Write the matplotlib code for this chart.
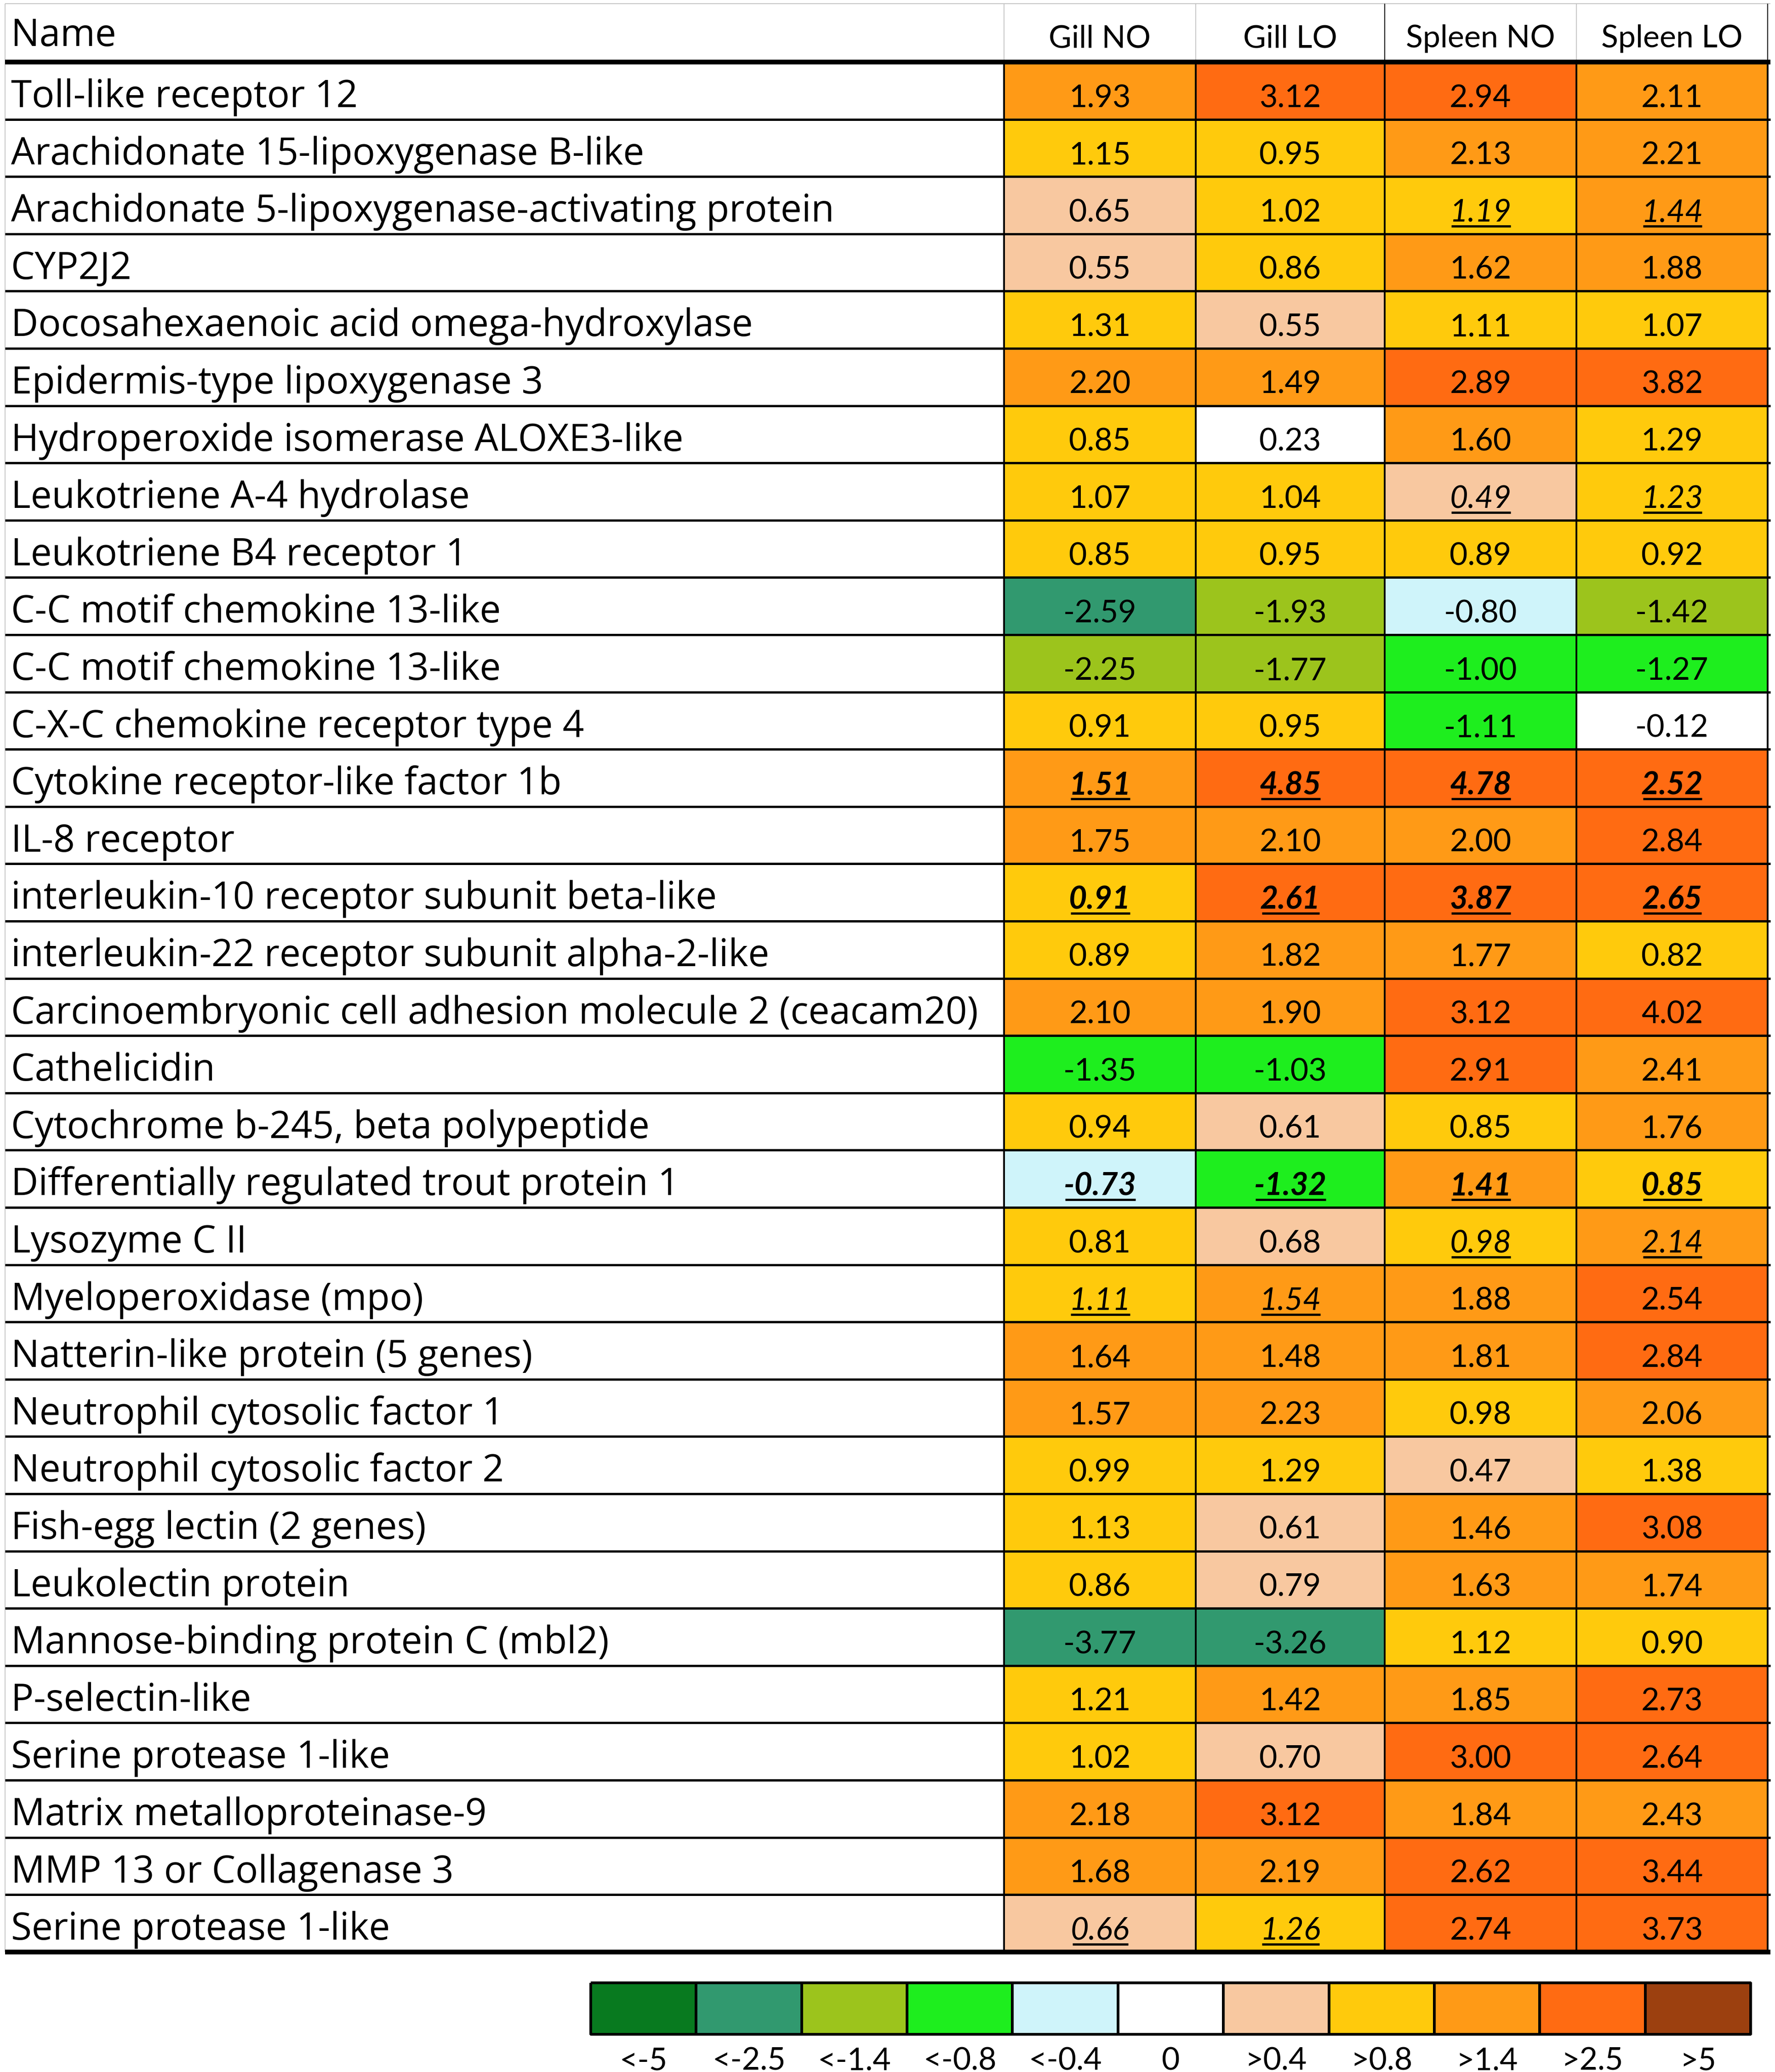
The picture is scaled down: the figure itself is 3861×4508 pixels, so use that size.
import numpy as np
import matplotlib
matplotlib.use("Agg")
import matplotlib.pyplot as plt
from matplotlib.colors import ListedColormap, BoundaryNorm

plt.rcParams['font.family'] = ['Lato', 'DejaVu Sans']

names = [
    "Toll-like receptor 12",
    "Arachidonate 15-lipoxygenase B-like",
    "Arachidonate 5-lipoxygenase-activating protein",
    "CYP2J2",
    "Docosahexaenoic acid omega-hydroxylase",
    "Epidermis-type lipoxygenase 3",
    "Hydroperoxide isomerase ALOXE3-like",
    "Leukotriene A-4 hydrolase",
    "Leukotriene B4 receptor 1",
    "C-C motif chemokine 13-like",
    "C-C motif chemokine 13-like",
    "C-X-C chemokine receptor type 4",
    "Cytokine receptor-like factor 1b",
    "IL-8 receptor",
    "interleukin-10 receptor subunit beta-like",
    "interleukin-22 receptor subunit alpha-2-like",
    "Carcinoembryonic cell adhesion molecule 2 (ceacam20)",
    "Cathelicidin",
    "Cytochrome b-245, beta polypeptide",
    "Differentially regulated trout protein 1",
    "Lysozyme C II",
    "Myeloperoxidase (mpo)",
    "Natterin-like protein (5 genes)",
    "Neutrophil cytosolic factor 1",
    "Neutrophil cytosolic factor 2",
    "Fish-egg lectin (2 genes)",
    "Leukolectin protein",
    "Mannose-binding protein C (mbl2)",
    "P-selectin-like",
    "Serine protease 1-like",
    "Matrix metalloproteinase-9",
    "MMP 13 or Collagenase 3",
    "Serine protease 1-like",
]
columns = ["Gill NO", "Gill LO", "Spleen NO", "Spleen LO"]

gill_no = [1.93, 1.15, 0.65, 0.55, 1.31, 2.20, 0.85, 1.07, 0.85, -2.59, -2.25,
           0.91, 1.51, 1.75, 0.91, 0.89, 2.10, -1.35, 0.94, -0.73, 0.81, 1.11,
           1.64, 1.57, 0.99, 1.13, 0.86, -3.77, 1.21, 1.02, 2.18, 1.68, 0.66]
gill_lo = [3.12, 0.95, 1.02, 0.86, 0.55, 1.49, 0.23, 1.04, 0.95, -1.93, -1.77,
           0.95, 4.85, 2.10, 2.61, 1.82, 1.90, -1.03, 0.61, -1.32, 0.68, 1.54,
           1.48, 2.23, 1.29, 0.61, 0.79, -3.26, 1.42, 0.70, 3.12, 2.19, 1.26]
spleen_no = [2.94, 2.13, 1.19, 1.62, 1.11, 2.89, 1.60, 0.49, 0.89, -0.80, -1.00,
             -1.11, 4.78, 2.00, 3.87, 1.77, 3.12, 2.91, 0.85, 1.41, 0.98, 1.88,
             1.81, 0.98, 0.47, 1.46, 1.63, 1.12, 1.85, 3.00, 1.84, 2.62, 2.74]
spleen_lo = [2.11, 2.21, 1.44, 1.88, 1.07, 3.82, 1.29, 1.23, 0.92, -1.42, -1.27,
             -0.12, 2.52, 2.84, 2.65, 0.82, 4.02, 2.41, 1.76, 0.85, 2.14, 2.54,
             2.84, 2.06, 1.38, 3.08, 1.74, 0.90, 2.73, 2.64, 2.43, 3.44, 3.73]

# per cell: '.' plain, 'i' italic + underline, 'b' bold italic + underline
marks = ["....", "....", "..ii", "....", "....", "....", "....", "..ii", "....",
         "....", "....", "....", "bbbb", "....", "bbbb", "....", "....", "....",
         "....", "bbbb", "..ii", "ii..", "....", "....", "....", "....", "....",
         "....", "....", "....", "....", "....", "ii.."]

bounds = [-10, -5, -2.5, -1.4, -0.8, -0.4, 0.4, 0.8, 1.4, 2.5, 5, 10]
bin_labels = ["<-5", "<-2.5", "<-1.4", "<-0.8", "<-0.4", "0", ">0.4", ">0.8",
              ">1.4", ">2.5", ">5"]
bin_colors = ["#087A1F", "#31996F", "#9CC41C", "#1EEE1E", "#CFF4FA", "#FFFFFF",
              "#F8C8A0", "#FFCA0C", "#FF9A16", "#FF6B12", "#9C400F"]

W, H = 3862, 4508
fig = plt.figure(figsize=(W / 100, H / 100), dpi=100)
ax = fig.add_axes([0, 0, 1, 1])
ax.set_xlim(0, W)
ax.set_ylim(H, 0)
ax.axis('off')

fs = 49
name_font = ['Open Sans', 'DejaVu Sans']
name_fs = 56
tab_left, tab_right = 11, 3851
col_edges = np.array([2184, 2601, 3012, 3429, 3845])
head_top, body_top, row_h = 8, 135, 124.6
n = len(names)
row_edges = body_top + np.arange(n + 1) * row_h
col_mid = (col_edges[:-1] + col_edges[1:]) / 2

vals = np.column_stack([gill_no, gill_lo, spleen_no, spleen_lo])
cmap = ListedColormap(bin_colors)
norm = BoundaryNorm(bounds, cmap.N)
ax.pcolormesh(col_edges, row_edges, vals, cmap=cmap, norm=norm)

# header
name_texts = [ax.text(24, 100, "Name", fontsize=name_fs, family=name_font,
                      ha='left', va='baseline')]
for j, c in enumerate(columns):
    ax.text(col_mid[j], 103, c, fontsize=fs, ha='center', va='baseline')
ax.hlines(head_top, tab_left, tab_right, color='#c8c8c8', lw=1.5)
for j, x in enumerate(col_edges):
    if j in (2, 4):
        ax.vlines(x, head_top, body_top, color='black', lw=1.5)
    else:
        ax.vlines(x, head_top, body_top, color='#bdbdbd', lw=1.2)
ax.vlines(tab_left, head_top, row_edges[-1], color='#bdbdbd', lw=1.2)

# body text
under = []
base = 98
for i in range(n):
    y = row_edges[i] + base
    name_texts.append(ax.text(24, y, names[i], fontsize=name_fs, family=name_font,
                              ha='left', va='baseline'))
    for j in range(4):
        m = marks[i][j]
        style = 'italic' if m in 'ib' else 'normal'
        weight = 'bold' if m == 'b' else 'normal'
        t = ax.text(col_mid[j], y, f"{vals[i, j]:.2f}", fontsize=fs,
                    ha='center', va='baseline', style=style, fontweight=weight)
        if m != '.':
            under.append((t, y))

# grid lines
ax.hlines(row_edges[1:-1], tab_left, tab_right, color='black', lw=3.6)
ax.hlines([row_edges[0], row_edges[-1]], tab_left, tab_right, color='black', lw=7.5)
ax.vlines(col_edges, row_edges[0], row_edges[-1], color='black', lw=2.8)

# fit the gene names to the width of the name column (longest name ends near x=2135)
fig.canvas.draw()
r = fig.canvas.get_renderer()
inv = ax.transData.inverted()
widest = max(t.get_window_extent(r).width for t in name_texts)
for t in name_texts:
    t.set_fontsize(name_fs * 2110 / widest)
fig.canvas.draw()

# underlines
for t, y in under:
    bb = t.get_window_extent(r)
    x0 = inv.transform((bb.x0, 0))[0]
    x1 = inv.transform((bb.x1, 0))[0]
    ax.plot([x0 + 4, x1 - 2], [y + 10, y + 10], color='black', lw=3.5,
            solid_capstyle='butt')

# legend
leg_x = np.linspace(1285, 3808, len(bin_labels) + 1)
leg_y = [4314, 4426]
leg_vals = np.array([(bounds[k] + bounds[k + 1]) / 2 for k in range(len(bin_labels))])
ax.pcolormesh(leg_x, leg_y, leg_vals[None, :], cmap=cmap, norm=norm,
              edgecolors='black', linewidth=3)
leg_mid = (leg_x[:-1] + leg_x[1:]) / 2
for k, lab in enumerate(bin_labels):
    ax.text(leg_mid[k], 4504, lab, fontsize=fs, ha='center', va='baseline')

fig.savefig("out.png", dpi=100)
